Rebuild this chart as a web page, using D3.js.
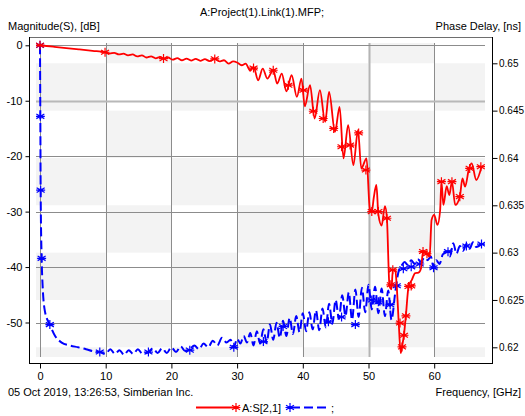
<!DOCTYPE html>
<html><head><meta charset="utf-8">
<script src="https://cdn.jsdelivr.net/npm/d3@7"></script>
<style>
html,body{margin:0;padding:0;background:#fff;}
svg{display:block;font-family:"Liberation Sans",Arial,sans-serif;}
</style></head>
<body><svg id="c" width="525" height="416"></svg>
<script>
// ---------- data ----------
const titleText = "A:Project(1).Link(1).MFP;";
const leftLabel = "Magnitude(S), [dB]";
const rightLabel = "Phase Delay, [ns]";
const xLabel = "Frequency, [GHz]";
const stampText = "05 Oct 2019, 13:26:53, Simberian Inc.";
const seriesNames = ["A:S[2,1]", ";"];

const xTicks = [0, 10, 20, 30, 40, 50, 60];
const leftTicks = [0, -10, -20, -30, -40, -50];
const rightTicks = [0.62, 0.625, 0.63, 0.635, 0.64, 0.645, 0.65];

// S[2,1] magnitude, dB
const magFreq = [0,2,4,6,8,9.9,10.6,11.3,12,12.7,13.4,14.1,14.8,15.5,16.2,16.9,17.6,18.3,18.8,19.5,20.2,20.9,21.6,22.3,23.0,23.7,24.4,25.1,25.8,26.6,27.3,28.0,28.7,29.4,30.0,30.7,31.3,32.0,32.5,33.2,33.9,34.6,35.5,36.1,36.8,37.5,38.3,39.1,39.8,40.3,41.1,41.8,42.6,43.4,44.0,44.9,45.6,46.2,46.9,47.7,48.4,48.9,49.7,50.2,50.5,50.8,51.2,51.5,52.0,52.5,52.8,53.2,53.5,53.7,54.1,54.3,54.6,54.9,55.1,55.4,55.7,56.1,56.6,57.1,57.6,58.0,58.3,58.8,59.3,59.6,60.0,60.5,60.9,61.1,61.4,61.9,62.3,62.7,63.2,63.9,64.3,64.7,65.3,65.7,66.4,67.2];
const magDb = [0,-0.25,-0.5,-0.75,-1.0,-1.25,-1.5,-1.35,-1.65,-1.5,-1.8,-1.65,-2.0,-1.8,-2.2,-2.0,-2.35,-2.1,-2.4,-2.2,-2.6,-2.3,-2.7,-2.4,-2.75,-2.45,-2.8,-2.5,-2.85,-2.45,-2.9,-2.7,-3.3,-2.9,-3.1,-3.6,-3.3,-4.6,-3.9,-6.3,-4.2,-6.0,-4.5,-6.9,-5.1,-8.3,-5.4,-9.3,-6.0,-11.0,-7.2,-13.2,-8.1,-13.8,-8.4,-15.6,-11.1,-20.4,-14.4,-21.6,-15.3,-22.2,-20.4,-29.5,-30.0,-27.5,-25.2,-30.5,-32.5,-29.0,-31.2,-43.5,-44.0,-40.5,-40.8,-43.5,-50.0,-55.5,-54.4,-52.2,-48.6,-43.5,-42.3,-41.1,-41.0,-40.2,-37.2,-37.5,-38.1,-31.5,-30.6,-32.4,-29.8,-24.6,-28.8,-25.4,-27.0,-24.6,-28.8,-27.3,-24.0,-25.5,-22.2,-21.3,-24.3,-21.9];
const magMarkFreq = [0,9.9,18.8,26.6,32.5,35.5,37.8,40.1,41.6,43.1,44.7,45.9,47.2,48.5,49.6,50.5,51.5,52.8,53.4,53.7,54.8,55.1,55.4,55.7,56.1,56.5,58.3,58.9,61.1,62.7,63.9,65.4,67.1];
const magMarkDb = [0,-1.25,-2.4,-2.45,-4.1,-4.5,-7.2,-8.1,-11.9,-13.2,-15.0,-18.3,-18.0,-15.8,-22.5,-30.0,-30.0,-31.2,-43.2,-40.5,-50.1,-54.4,-52.3,-48.8,-43.5,-43.4,-37.2,-37.6,-24.6,-24.6,-27.3,-22.2,-21.9];

// phase delay, ns
const delayFreq = [0,0.05,0.1,0.25,0.4,0.75,1.5,2.3,3.3,4.5,5.8,7.0,8.0,9.1,10.0,10.7,11.4,12.1,12.8,13.5,14.2,14.9,15.6,16.5,17.2,17.9,18.6,19.3,20.0,20.7,21.4,22.1,22.8,23.5,24.2,24.9,25.6,26.3,27.0,27.7,28.4,29.0,29.5,30.0,30.5,31.0,31.5,32.0,32.5,33.0,33.5,34.0,34.5,35.0,35.5,36.0,36.5,37.0,37.5,38.0,38.5,39.0,39.5,40.0,40.5,41.0,41.5,42.0,42.5,43.0,43.5,44.0,44.5,45.0,45.5,46.0,46.5,47.0,47.5,48.0,48.5,49.0,49.5,50.0,50.5,51.0,51.5,52.0,52.5,53.0,53.5,54.0,54.3,54.7,55.0,55.5,56.0,56.5,57.0,57.5,58.0,58.5,59.0,59.5,59.9,60.3,60.8,61.3,61.9,62.4,62.9,63.4,63.9,64.4,64.9,65.4,65.9,66.4,67.2];
const delayNs = [0.6519,0.6444,0.6366,0.6294,0.6265,0.6238,0.6224,0.6212,0.6205,0.6202,0.6200,0.6198,0.6196,0.6195,0.6193,0.6198,0.6193,0.6197,0.6192,0.6197,0.6193,0.6198,0.6193,0.6195,0.6199,0.6194,0.6199,0.6194,0.6200,0.6195,0.6201,0.6196,0.6198,0.6202,0.6198,0.6204,0.6200,0.6207,0.6202,0.6210,0.6205,0.6208,0.6200,0.6209,0.6204,0.6212,0.6205,0.6215,0.6202,0.6217,0.6204,0.6219,0.6205,0.6224,0.6208,0.6226,0.6210,0.6228,0.6212,0.6231,0.6214,0.6233,0.6216,0.6236,0.6217,0.6237,0.6219,0.6239,0.6218,0.6241,0.6221,0.6246,0.6225,0.6250,0.6230,0.6255,0.6233,0.6258,0.6229,0.6261,0.6232,0.6263,0.6237,0.6266,0.6240,0.6264,0.6236,0.6262,0.6233,0.6260,0.6229,0.6254,0.6270,0.6283,0.6286,0.6290,0.6287,0.6292,0.6288,0.6293,0.6290,0.6295,0.6292,0.6296,0.6284,0.6292,0.6288,0.6298,0.6301,0.6296,0.6310,0.6299,0.6307,0.6302,0.6309,0.6304,0.6311,0.6306,0.6309];
const delayMarkFreq = [0,0.05,0.1,0.25,1.5,9.1,16.5,22.8,29.5,34.0,37.0,43.9,45.9,48.0,50.5,51.5,53.3,54.3,55.3,56.5,57.8,59.9,62.1,64.9,67.2];
const delayMarkNs = [0.6519,0.6444,0.6366,0.6294,0.6224,0.6195,0.6195,0.6197,0.6200,0.6206,0.6222,0.6227,0.6232,0.6224,0.6250,0.6248,0.6245,0.6265,0.6283,0.6285,0.6288,0.6284,0.6301,0.6307,0.6309];

// ---------- drawing ----------
const svg = d3.select("#c");
const P = {l: 36, r: 485, t: 43, b: 357};
const x = d3.scaleLinear().domain([0, 60]).range([40, 434.2]);
const yL = d3.scaleLinear().domain([0, -50]).range([45.3, 322.5]);
const yR = d3.scaleLinear().domain([0.65, 0.62]).range([63.3, 347.3]);

// checkerboard background
const colEdges = [P.l].concat(xTicks.slice(1).map(x)).concat([P.r]);
const rowEdges = [P.t].concat(rightTicks.slice().reverse().map(yR)).concat([P.b]);
for (let r = 0; r < rowEdges.length - 1; r++) {
  for (let c = 0; c < colEdges.length - 1; c++) {
    if ((r + c) % 2 === 1) {
      svg.append("rect").attr("x", colEdges[c]).attr("y", rowEdges[r])
        .attr("width", colEdges[c+1] - colEdges[c]).attr("height", rowEdges[r+1] - rowEdges[r])
        .attr("fill", "#f3f3f3");
    }
  }
}

// grid
svg.append("g").selectAll("line").data(xTicks).join("line")
  .attr("x1", d => Math.round(x(d)) + 0.5).attr("x2", d => Math.round(x(d)) + 0.5)
  .attr("y1", P.t).attr("y2", P.b)
  .attr("stroke", d => d === 50 ? "#b4b4b4" : "#8c8c8c")
  .attr("stroke-width", d => d === 50 ? 2 : 1);
svg.append("g").selectAll("line").data(leftTicks).join("line")
  .attr("x1", P.l).attr("x2", P.r)
  .attr("y1", d => Math.round(yL(d)) + 0.5).attr("y2", d => Math.round(yL(d)) + 0.5)
  .attr("stroke", d => d === -10 ? "#b8b8b8" : "#8c8c8c")
  .attr("stroke-width", d => d === -10 ? 2 : 1);

// frame
svg.append("line").attr("x1", 29).attr("x2", 492.5).attr("y1", 37.5).attr("y2", 37.5).attr("stroke", "#6e6e6e");
const fontCss = "11px 'Liberation Sans', Arial, sans-serif";
const smallFont = "10px 'Liberation Sans', Arial, sans-serif";

const axL = svg.append("g").attr("transform", "translate(29.5,0)")
  .call(d3.axisLeft(yL).tickValues(leftTicks).tickFormat(d => String(d)).tickSize(4).tickPadding(3).tickSizeOuter(0));
const axR = svg.append("g").attr("transform", "translate(492.5,0)")
  .call(d3.axisRight(yR).tickValues(rightTicks).tickFormat(d => String(d)).tickSize(5).tickPadding(1.5).tickSizeOuter(0));
const axB = svg.append("g").attr("transform", "translate(0,363.5)")
  .call(d3.axisBottom(x).tickValues(xTicks).tickFormat(d => String(d)).tickSize(5).tickPadding(4).tickSizeOuter(0));
[axL, axR, axB].forEach(g => {
  g.select(".domain").remove();
  g.selectAll("text").style("font", fontCss).attr("fill", "#000");
  g.selectAll("line").attr("stroke", "#000");
});
axR.selectAll("text").style("font", smallFont);
svg.append("line").attr("x1", 29.5).attr("x2", 29.5).attr("y1", 37).attr("y2", 364).attr("stroke", "#000");
svg.append("line").attr("x1", 492.5).attr("x2", 492.5).attr("y1", 37).attr("y2", 364).attr("stroke", "#000");
svg.append("line").attr("x1", 29).attr("x2", 493).attr("y1", 363.5).attr("y2", 363.5).attr("stroke", "#000");

// texts
function txt(s, xx, yy, anchor) {
  svg.append("text").attr("x", xx).attr("y", yy).attr("text-anchor", anchor || "start")
    .style("font", fontCss).attr("fill", "#000").text(s);
}
txt(titleText, 262, 16, "middle");
txt(leftLabel, 8, 30);
txt(rightLabel, 521, 30, "end");
txt(stampText, 8, 396);
txt(xLabel, 521, 396, "end");

// series
const clip = svg.append("clipPath").attr("id", "pc").append("rect")
  .attr("x", P.l).attr("y", P.t - 4).attr("width", P.r - P.l).attr("height", P.b - P.t + 6);
const plot = svg.append("g").attr("clip-path", "url(#pc)");

const star = "M0,-4.5L0,4.5M-4,-2.3L4,2.3M-4,2.3L4,-2.3M-4.5,0L4.5,0";
const redC = "#ff0000", blueC = "#0000ff";

const magPts = magFreq.map((f, i) => [f, magDb[i]]);
const delayPts = delayFreq.map((f, i) => [f, delayNs[i]]);

plot.append("path").datum(delayPts)
  .attr("d", d3.line().x(d => x(d[0])).y(d => yR(d[1])).curve(d3.curveMonotoneX))
  .attr("fill", "none").attr("stroke", blueC).attr("stroke-width", 2).attr("stroke-dasharray", "9,4");
plot.append("g").selectAll("path").data(delayMarkFreq).join("path")
  .attr("d", star).attr("transform", (f, i) => `translate(${x(f)},${yR(delayMarkNs[i])})`)
  .attr("stroke", blueC).attr("stroke-width", 1.2).attr("fill", "none");

plot.append("path").datum(magPts)
  .attr("d", d3.line().x(d => x(d[0])).y(d => yL(d[1])).curve(d3.curveMonotoneX))
  .attr("fill", "none").attr("stroke", redC).attr("stroke-width", 1.8);
plot.append("g").selectAll("path").data(magMarkFreq).join("path")
  .attr("d", star).attr("transform", (f, i) => `translate(${x(f)},${yL(magMarkDb[i])})`)
  .attr("stroke", redC).attr("stroke-width", 1.2).attr("fill", "none");

// legend
const ly = 407.5;
svg.append("line").attr("x1", 196).attr("x2", 236).attr("y1", ly).attr("y2", ly).attr("stroke", redC).attr("stroke-width", 2);
svg.append("path").attr("d", star).attr("transform", `translate(236,${ly})`).attr("stroke", redC).attr("stroke-width", 1.2);
txt(seriesNames[0], 242, 412);
svg.append("path").attr("d", star).attr("transform", `translate(290,${ly})`).attr("stroke", blueC).attr("stroke-width", 1.2);
svg.append("line").attr("x1", 291).attr("x2", 330).attr("y1", ly).attr("y2", ly).attr("stroke", blueC).attr("stroke-width", 2).attr("stroke-dasharray", "9,4");
txt(seriesNames[1], 331, 412);
</script></body></html>
